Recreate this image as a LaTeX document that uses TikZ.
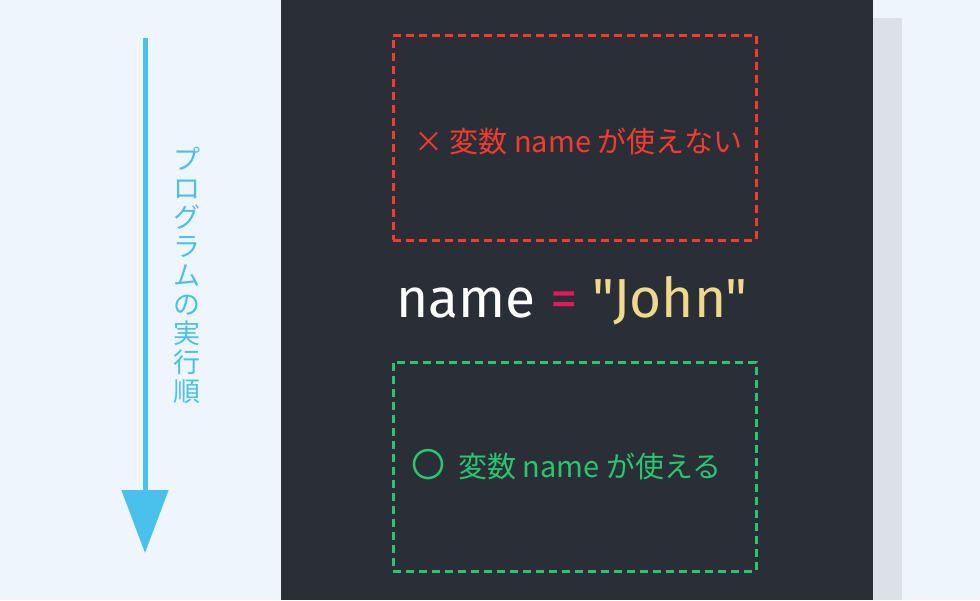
\documentclass[tikz,border=0pt]{standalone}
\usepackage{fontspec}
\setmainfont{Noto Sans CJK JP}
\newfontfamily\codefont{Fira Sans}
\usepackage{xcolor}
\usepackage{tikz}
\usetikzlibrary{arrows.meta}
\usetikzlibrary{positioning}
\definecolor{pagebg}{HTML}{EFF5FC}
\definecolor{panel}{HTML}{2A2E36}
\definecolor{panelshadow}{HTML}{DCE0E8}
\definecolor{flowblue}{HTML}{4AC0EC}
\definecolor{ngred}{HTML}{F53B30}
\definecolor{okgreen}{HTML}{2CC56F}
\definecolor{strcol}{HTML}{F0D98A}
\definecolor{opcol}{HTML}{E8175D}
\tikzset{
	scope box/.style={draw,dashed,line width=3pt,dash pattern=on 8pt off 5pt,
		minimum width=363pt,inner sep=0pt,text height=20pt,text depth=4pt,
		font=\fontsize{29}{29}\selectfont},
	ng box/.style={scope box,draw=ngred,text=ngred,minimum height=205pt},
	ok box/.style={scope box,draw=okgreen,text=okgreen,minimum height=209pt},
	flow label/.style={text=flowblue,align=center,font=\fontsize{27}{29}\selectfont}
}
\begin{document}
\begin{tikzpicture}[x=1pt,y=-1pt]
	\useasboundingbox (0,0) rectangle (980,600);
	\fill[pagebg] (0,0) rectangle (980,600);
	\fill[panelshadow] (873,18) rectangle (902,600);
	\fill[panel] (281,0) rectangle (873,600);
	% execution order
	\coordinate (flowtop) at (145,38);
	\coordinate (flowend) at (145,553);
	\draw[flowblue,line width=5pt,-{Triangle[width=46pt,length=63pt]}] (flowtop) -- (flowend);
	\node[flow label] (order) at (187,275) {プ\\ロ\\グ\\ラ\\ム\\の\\実\\行\\順};
	% scopes
	\node[ng box] (before) at (574.5,137.5) {\hspace{8pt}\raisebox{-7pt}{× 変数 name が使えない}};
	\node[font=\codefont\fontsize{55}{55}\selectfont,text=white] (assign) at (572,301)
		{name {\color{opcol}=} {\color{strcol}"John"}};
	\node[ok box] (after) at (574.5,466.5)
		{\hspace{-16pt}\raisebox{-3pt}{{\fontsize{34}{29}\selectfont 〇}\hspace{13pt}変数 name が使える}\hspace{46pt}};
\end{tikzpicture}
\end{document}
